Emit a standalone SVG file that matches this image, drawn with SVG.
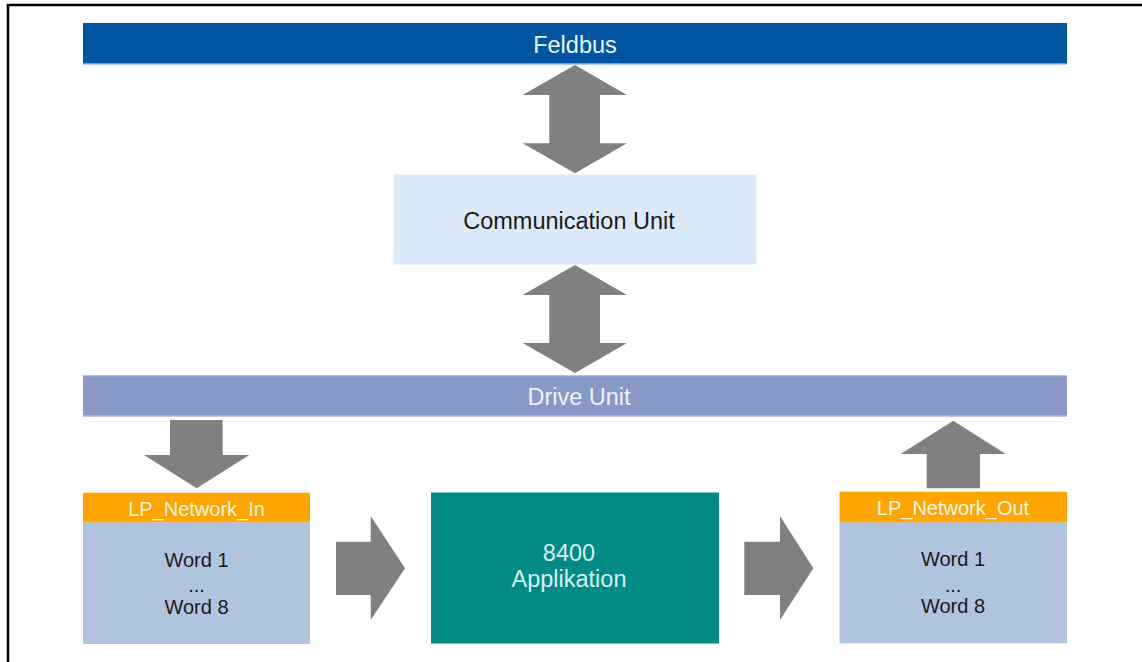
<svg xmlns="http://www.w3.org/2000/svg" width="1142" height="662" viewBox="0 0 1142 662">
<style>
text{font-family:"Liberation Sans",Arial,sans-serif;text-anchor:middle}
.big{font-size:23.5px}
.lab{font-size:20px}
.arrow{fill:#808080}
.light{fill:#eef3fa}
.dark{fill:#1a1a1a}
</style>
<rect x="0" y="0" width="1142" height="662" fill="#ffffff"/>
<path d="M8,662 V5 H1142" fill="none" stroke="#000" stroke-width="2.5"/>
<g id="feldbus">
<rect x="83" y="23" width="984" height="41" fill="#0055a3"/>
<rect x="83" y="63" width="984" height="1.5" fill="#6f9fd3"/>
<text class="big light" x="575" y="52.5">Feldbus</text>
</g>
<g id="communication-unit">
<rect x="393.5" y="174.5" width="363" height="90" fill="#dbeaf8"/>
<text class="big dark" x="569" y="229">Communication Unit</text>
</g>
<g id="drive-unit">
<rect x="83" y="375" width="984" height="41.5" fill="#8899c8"/>
<rect x="83" y="375" width="984" height="1.2" fill="#b5c0de"/>
<rect x="83" y="415.3" width="984" height="1.2" fill="#b5c0de"/>
<text class="big light" x="579" y="404.5">Drive Unit</text>
</g>
<g id="lp-network-in">
<rect x="83" y="522.3" width="227" height="121.7" fill="#b0c4de"/>
<rect x="83" y="492.7" width="227" height="29.6" fill="#ffa500"/>
<text class="lab" fill="#fff6e6" x="196.5" y="516">LP_Network_In</text>
<text class="lab dark" x="196.5" y="567.3">Word 1</text>
<text class="lab dark" x="196.5" y="591.7">...</text>
<text class="lab dark" x="196.5" y="614.3">Word 8</text>
</g>
<g id="applikation">
<rect x="431" y="492.5" width="288" height="151" fill="#008b87"/>
<text class="big" fill="#d9efee" x="569" y="561">8400</text>
<text class="big" fill="#d9efee" x="569" y="587">Applikation</text>
</g>
<g id="lp-network-out">
<rect x="839.5" y="522.3" width="227.5" height="121" fill="#b0c4de"/>
<rect x="839.5" y="491.7" width="227.5" height="30.6" fill="#ffa500"/>
<text class="lab" fill="#fff6e6" x="953" y="515">LP_Network_Out</text>
<text class="lab dark" x="953" y="565.7">Word 1</text>
<text class="lab dark" x="953" y="591.7">...</text>
<text class="lab dark" x="953" y="613.3">Word 8</text>
</g>
<g id="connectors">
<polygon class="arrow" points="575,65 627,95 600,95 600,143.3 627,143.3 575,173.3 522.7,143.3 549.3,143.3 549.3,95 522.7,95"/>
<polygon class="arrow" points="575,265 627,295 600,295 600,343 627,343 575,373 522.7,343 549.3,343 549.3,295 522.7,295"/>
<polygon class="arrow" points="170,420 222.7,420 222.7,455 249.3,455 196.7,488.3 144,455 170,455"/>
<polygon class="arrow" points="953.3,420.7 1005.7,454 980,454 980,488.3 926.7,488.3 926.7,454 900.7,454"/>
<polygon class="arrow" points="336,541.7 370.7,541.7 370.7,516 405,568.3 370.7,620 370.7,595 336,595"/>
<polygon class="arrow" points="744.3,541.7 780,541.7 780,516 813.3,568.3 780,620 780,595 744.3,595"/>
</g>
</svg>
